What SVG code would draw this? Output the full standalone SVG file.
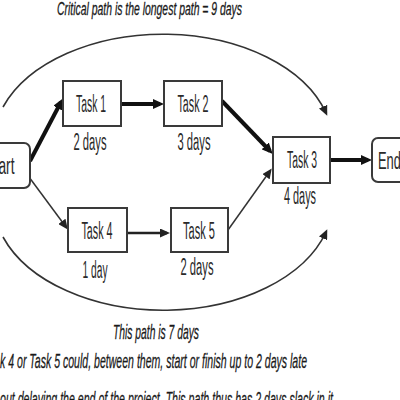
<svg xmlns="http://www.w3.org/2000/svg" width="400" height="400" viewBox="0 0 400 400">
<style>
.box{fill:#fff;stroke:#3a3a3a;stroke-width:2}
.lbl{font-family:"Liberation Sans",Arial,sans-serif;font-size:23px;fill:#2a2a2a;text-anchor:middle}
.cap{font-family:"Liberation Sans",Arial,sans-serif;font-size:21px;font-style:italic;fill:#1a1a1a;stroke:#1a1a1a;stroke-width:0.3}
.thick{stroke:#111;stroke-width:4;fill:none}
.thin{stroke:#333;stroke-width:1.5;fill:none}
.mid{stroke:#222;stroke-width:2.5;fill:none}
.arc{stroke:#333;stroke-width:1.6;fill:none}
</style>
<defs>
<marker id="ah" markerUnits="userSpaceOnUse" markerWidth="12" markerHeight="10" refX="7" refY="5" orient="auto">
<path d="M0,0 L11,5 L0,10 z" fill="#111"/>
</marker>
<marker id="as" markerUnits="userSpaceOnUse" markerWidth="12" markerHeight="9" refX="7" refY="4.5" orient="auto">
<path d="M0,0 L10,4.5 L0,9 z" fill="#222"/>
</marker>
</defs>
<rect width="400" height="400" fill="#fff"/>
<g id="connectors">
<path class="arc" d="M3,107 A170,110 0 0 1 326,113" marker-end="url(#as)"/>
<path class="arc" d="M3,237 A170,110 0 0 0 326,232" marker-end="url(#as)"/>
<line class="thick" x1="30" y1="161" x2="61" y2="102" marker-end="url(#ah)"/>
<line class="thick" x1="121" y1="104" x2="160" y2="104" marker-end="url(#ah)"/>
<line class="thick" x1="222" y1="101" x2="270" y2="151" marker-end="url(#ah)"/>
<line class="thick" x1="331" y1="160" x2="368" y2="160" marker-end="url(#ah)"/>
<line class="thin" x1="29" y1="177" x2="66" y2="227" marker-end="url(#as)"/>
<line class="mid" x1="127" y1="233" x2="167" y2="233" marker-end="url(#as)"/>
<line class="thin" x1="228" y1="230" x2="270" y2="171" marker-end="url(#as)"/>
</g>
<g id="start">
<rect class="box" x="-30" y="143" width="60" height="45" rx="6"/>
<text class="lbl" x="0" y="174" textLength="29" lengthAdjust="spacingAndGlyphs">Start</text>
</g>
<g id="task1">
<rect class="box" x="63" y="81" width="58" height="45"/>
<text class="lbl" x="91" y="112" textLength="30" lengthAdjust="spacingAndGlyphs">Task 1</text>
<text class="lbl" x="90" y="150" textLength="33" lengthAdjust="spacingAndGlyphs">2 days</text>
</g>
<g id="task2">
<rect class="box" x="164" y="81" width="58" height="45"/>
<text class="lbl" x="193" y="112" textLength="31" lengthAdjust="spacingAndGlyphs">Task 2</text>
<text class="lbl" x="194" y="150" textLength="33" lengthAdjust="spacingAndGlyphs">3 days</text>
</g>
<g id="task3">
<rect class="box" x="273" y="137" width="57" height="46"/>
<text class="lbl" x="302" y="168" textLength="30" lengthAdjust="spacingAndGlyphs">Task 3</text>
<text class="lbl" x="300" y="204" textLength="32" lengthAdjust="spacingAndGlyphs">4 days</text>
</g>
<g id="end">
<rect class="box" x="372" y="138" width="60" height="44" rx="6"/>
<text x="378" y="169" font-family="Liberation Sans,Arial,sans-serif" font-size="23" fill="#2a2a2a" textLength="23" lengthAdjust="spacingAndGlyphs">End</text>
</g>
<g id="task4">
<rect class="box" x="68" y="208" width="59" height="44"/>
<text class="lbl" x="97" y="239" textLength="31" lengthAdjust="spacingAndGlyphs">Task 4</text>
<text class="lbl" x="95" y="278" textLength="25" lengthAdjust="spacingAndGlyphs">1 day</text>
</g>
<g id="task5">
<rect class="box" x="171" y="208" width="57" height="44"/>
<text class="lbl" x="199" y="239" textLength="32" lengthAdjust="spacingAndGlyphs">Task 5</text>
<text class="lbl" x="197" y="275" textLength="33" lengthAdjust="spacingAndGlyphs">2 days</text>
</g>
<text class="cap" x="57" y="15" font-size="18" textLength="185" lengthAdjust="spacingAndGlyphs" style="font-size:18px">Critical path is the longest path = 9 days</text>
<text class="cap" x="113" y="339" textLength="86" lengthAdjust="spacingAndGlyphs">This path is 7 days</text>
<text class="cap" x="0" y="368" textLength="307" lengthAdjust="spacingAndGlyphs">k 4 or Task 5 could, between them, start or finish up to 2 days late</text>
<text class="cap" x="0" y="406" textLength="333" lengthAdjust="spacingAndGlyphs">out delaying the end of the project. This path thus has 2 days slack in it</text>
</svg>
